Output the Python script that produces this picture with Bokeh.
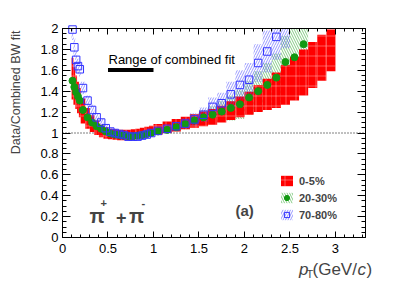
from bokeh.plotting import figure
from bokeh.models import (Label, SingleIntervalTicker, LinearAxis, CustomJSTickFormatter,
                          Legend, LegendItem)
from bokeh.embed import file_html
from bokeh.resources import INLINE
import numpy as np

# ---------------- data ----------------
pt = [0.11, 0.13, 0.15, 0.17, 0.19, 0.225, 0.275, 0.325, 0.375, 0.425, 0.475,
      0.525, 0.575, 0.625, 0.675, 0.725, 0.775, 0.825, 0.875, 0.925, 0.975,
      1.05, 1.15, 1.25, 1.35, 1.45, 1.55, 1.65, 1.75, 1.85, 1.95, 2.05, 2.15,
      2.25, 2.35, 2.45, 2.55, 2.65, 2.75, 2.85, 2.95]
pt_halfwidth = [0.01] * 5 + [0.025] * 16 + [0.05] * 20

# 0-5 %
r05 = [1.52, 1.45, 1.39, 1.34, 1.29, 1.21, 1.14, 1.09, 1.05, 1.02, 1.0,
       0.99, 0.985, 0.98, 0.98, 0.98, 0.985, 0.99, 1.0, 1.01, 1.02,
       1.035, 1.055, 1.075, 1.095, 1.115, 1.135, 1.155, 1.18, 1.215, 1.25, 1.285, 1.33,
       1.37, 1.41, 1.46, 1.52, 1.58, 1.65, 1.72, 1.79]
e05 = [0.20, 0.18, 0.16, 0.15, 0.14, 0.12, 0.10, 0.08, 0.07, 0.06, 0.055,
       0.05, 0.05, 0.05, 0.05, 0.05, 0.05, 0.05, 0.05, 0.05, 0.05,
       0.05, 0.055, 0.06, 0.06, 0.065, 0.07, 0.075, 0.08, 0.09, 0.10, 0.11, 0.13,
       0.15, 0.17, 0.19, 0.21, 0.22, 0.22, 0.22, 0.20]

# 20-30 %
r2030 = [1.50, 1.44, 1.39, 1.35, 1.31, 1.22, 1.15, 1.10, 1.065, 1.04, 1.015,
         0.995, 0.985, 0.98, 0.975, 0.97, 0.97, 0.975, 0.98, 0.99, 1.0,
         1.015, 1.03, 1.055, 1.085, 1.12, 1.15, 1.175, 1.205, 1.24, 1.275, 1.34, 1.40,
         1.46, 1.53, 1.68, 1.725, 1.85]
e2030 = [0.08, 0.07, 0.06, 0.06, 0.05, 0.05, 0.04, 0.04, 0.03, 0.03, 0.03,
         0.03, 0.03, 0.03, 0.03, 0.03, 0.03, 0.03, 0.03, 0.03, 0.03,
         0.03, 0.035, 0.04, 0.05, 0.06, 0.07, 0.08, 0.10, 0.12, 0.14, 0.16, 0.19,
         0.21, 0.23, 0.25, 0.27, 0.28]

# 70-80 %
r7080 = [1.99, 1.82, 1.70, 1.64, 1.61, 1.43, 1.31, 1.22, 1.15, 1.10, 1.046,
         1.014, 1.0, 0.99, 0.98, 0.965, 0.965, 0.965, 0.975, 0.985, 1.0,
         1.02, 1.04, 1.065, 1.09, 1.13, 1.175, 1.25, 1.285, 1.37, 1.46, 1.51, 1.67,
         1.78, 1.92, 2.05]
e7080 = [0.10, 0.09, 0.08, 0.07, 0.07, 0.06, 0.05, 0.05, 0.04, 0.04, 0.035,
         0.03, 0.03, 0.03, 0.03, 0.03, 0.03, 0.03, 0.03, 0.03, 0.03,
         0.03, 0.035, 0.04, 0.05, 0.06, 0.07, 0.09, 0.10, 0.12, 0.14, 0.16, 0.18,
         0.20, 0.22, 0.24]

legend_labels = ["0-5%", "20-30%", "70-80%"]
fit_range = [0.5, 1.0]
x_lim = (0, 3.33)     # axis box
y_lim = (0, 2)

# ---------------- layout ----------------
FONT = "Liberation Sans"
FL, FT, FW, FH = 62, 28, 303, 209   # axis box left/top/width/height in page pixels
W, H = 410, 281                      # canvas
XS = FW / (x_lim[1] - x_lim[0])
YS = FH / (y_lim[1] - y_lim[0])
x_range = (x_lim[0] - FL / XS, x_lim[0] + (W - FL) / XS)
y_range = (y_lim[0] - (H - FT - FH) / YS, y_lim[0] + (FT + FH) / YS)


def dx(px):
    return x_lim[0] + (px - FL) / XS


def dy(py):
    return y_lim[0] + (FT + FH - py) / YS


p = figure(output_backend="svg", toolbar_location=None,
           frame_width=W, frame_height=H, x_range=x_range, y_range=y_range,
           x_axis_type=None, y_axis_type=None,
           min_border=0, min_border_left=0, min_border_right=0,
           min_border_top=0, min_border_bottom=0,
           background_fill_color="white", border_fill_color="white")
p.outline_line_color = None

fmt = CustomJSTickFormatter(code="return tick.toFixed(1).replace(/\\.0$/, '');")
xt = SingleIntervalTicker(interval=0.5, num_minor_ticks=5)
yt = SingleIntervalTicker(interval=0.2, num_minor_ticks=4)


def make_axis(ticker, loc, bounds, tick_in, minor_in, show_labels, standoff):
    ax = LinearAxis(ticker=ticker, formatter=fmt, fixed_location=loc, bounds=bounds,
                    major_tick_in=tick_in, minor_tick_in=minor_in,
                    major_tick_out=0, minor_tick_out=0,
                    axis_line_color="black", major_tick_line_color="black",
                    minor_tick_line_color="black",
                    major_label_text_font=FONT, major_label_standoff=standoff,
                    major_label_text_font_size="13px" if show_labels else "1px",
                    major_label_text_color="black" if show_labels else None)
    return ax


p.add_layout(make_axis(xt, y_lim[0], x_lim, 6, 3, True, 6), "below")
p.add_layout(make_axis(yt, x_lim[0], y_lim, 8, 4, True, 4), "left")
p.add_layout(make_axis(xt, y_lim[1], x_lim, 6, 3, False, 0), "above")
p.add_layout(make_axis(yt, x_lim[1], y_lim, 8, 4, False, 0), "right")

# dotted unity line
p.line(list(x_lim), [1.0, 1.0], line_color="black", line_dash="1 2", line_width=1)

pt_a = np.array(pt)
hw = np.array(pt_halfwidth)


def band(vals, errs):
    v = np.array(vals)
    e = np.array(errs)
    return np.minimum(v - e, y_lim[1]), np.minimum(v + e, y_lim[1])


# green band
n = len(r2030)
gb, gt = band(r2030, e2030)
g_band = p.quad(left=pt_a[:n] - hw[:n], right=pt_a[:n] + hw[:n], bottom=gb, top=gt,
                fill_alpha=0, line_color=None, hatch_pattern="\\", hatch_color="#33aa33",
                hatch_alpha=0.6, hatch_scale=5, hatch_weight=1)
# red band
rb, rt = band(r05, e05)
r_band = p.quad(left=pt_a - hw, right=pt_a + hw, bottom=rb, top=rt,
                fill_color="#ff0000", fill_alpha=1, line_color=None, hatch_pattern="+",
                hatch_color="white", hatch_alpha=0.35, hatch_scale=10, hatch_weight=1)
# blue band
m = len(r7080)
bb, bt = band(r7080, e7080)
b_band = p.quad(left=pt_a[:m] - hw[:m], right=pt_a[:m] + hw[:m], bottom=bb, top=bt,
                fill_alpha=0, line_color=None, hatch_pattern="/", hatch_color="#4444ff",
                hatch_alpha=0.55, hatch_scale=5, hatch_weight=1)

g_in = np.array(r2030) <= y_lim[1]
g_pts = p.scatter(pt_a[:n][g_in], np.array(r2030)[g_in], marker="circle", size=7,
                  fill_color="#129912", line_color="#129912")
b_in = np.array(r7080) <= y_lim[1]
b_pts = p.scatter(pt_a[:m][b_in], np.array(r7080)[b_in], marker="square", size=7.5,
                  fill_alpha=0, line_color="#3333ff", line_width=1)

# range of combined fit
p.line(fit_range, [dy(69.5), dy(69.5)], line_width=4, line_color="black")
p.add_layout(Label(x=dx(108), y=dy(58.5), text="Range of combined fit", text_font=FONT,
                   text_font_size="13px", text_baseline="alphabetic", text_color="black"))

# legend
legend = Legend(items=[LegendItem(label=legend_labels[0], renderers=[r_band]),
                       LegendItem(label=legend_labels[1], renderers=[g_band, g_pts]),
                       LegendItem(label=legend_labels[2], renderers=[b_band, b_pts])],
                location=(279, H - 221), orientation="vertical",
                glyph_width=15, glyph_height=13, spacing=4, padding=0, margin=0,
                label_standoff=5, label_text_font=FONT, label_text_font_size="11px",
                label_text_font_style="bold", border_line_color=None,
                background_fill_alpha=0, label_height=13)
p.add_layout(legend, "center")

# pi label
p.add_layout(Label(x=dx(89), y=dy(215), text="π", text_font=FONT, text_font_size="20px",
                   text_font_style="bold", text_baseline="alphabetic"))
p.add_layout(Label(x=dx(100), y=dy(202.5), text="+", text_font=FONT, text_font_size="11px",
                   text_font_style="bold", text_baseline="alphabetic"))
p.add_layout(Label(x=dx(115.5), y=dy(217), text="+", text_font=FONT, text_font_size="18px",
                   text_font_style="bold", text_baseline="alphabetic"))
p.add_layout(Label(x=dx(128.5), y=dy(215), text="π", text_font=FONT, text_font_size="20px",
                   text_font_style="bold", text_baseline="alphabetic"))
p.add_layout(Label(x=dx(141), y=dy(202.5), text="-", text_font=FONT, text_font_size="11px",
                   text_font_style="bold", text_baseline="alphabetic"))

# (a)
p.add_layout(Label(x=dx(235), y=dy(210), text="(a)", text_font=FONT, text_font_size="15px",
                   text_font_style="bold", text_baseline="alphabetic"))

# axis titles
p.add_layout(Label(x=dx(15), y=dy(30), text="Data/Combined BW fit", text_font=FONT,
                   text_font_size="12.5px", angle=np.pi / 2, text_align="right",
                   text_baseline="alphabetic"))
p.add_layout(Label(x=dx(298.5), y=dy(269), text="p", text_font=FONT, text_font_size="17px",
                   text_font_style="italic", text_baseline="alphabetic"))
p.add_layout(Label(x=dx(306), y=dy(273), text="T", text_font=FONT, text_font_size="11px",
                   text_baseline="alphabetic"))
p.add_layout(Label(x=dx(312), y=dy(269), text="(GeV/", text_font=FONT, text_font_size="17px",
                   text_baseline="alphabetic"))
p.add_layout(Label(x=dx(357), y=dy(269), text="c", text_font=FONT, text_font_size="17px",
                   text_font_style="italic", text_baseline="alphabetic"))
p.add_layout(Label(x=dx(366), y=dy(269), text=")", text_font=FONT, text_font_size="17px",
                   text_baseline="alphabetic"))

open("out.html", "w").write(file_html(p, INLINE))
